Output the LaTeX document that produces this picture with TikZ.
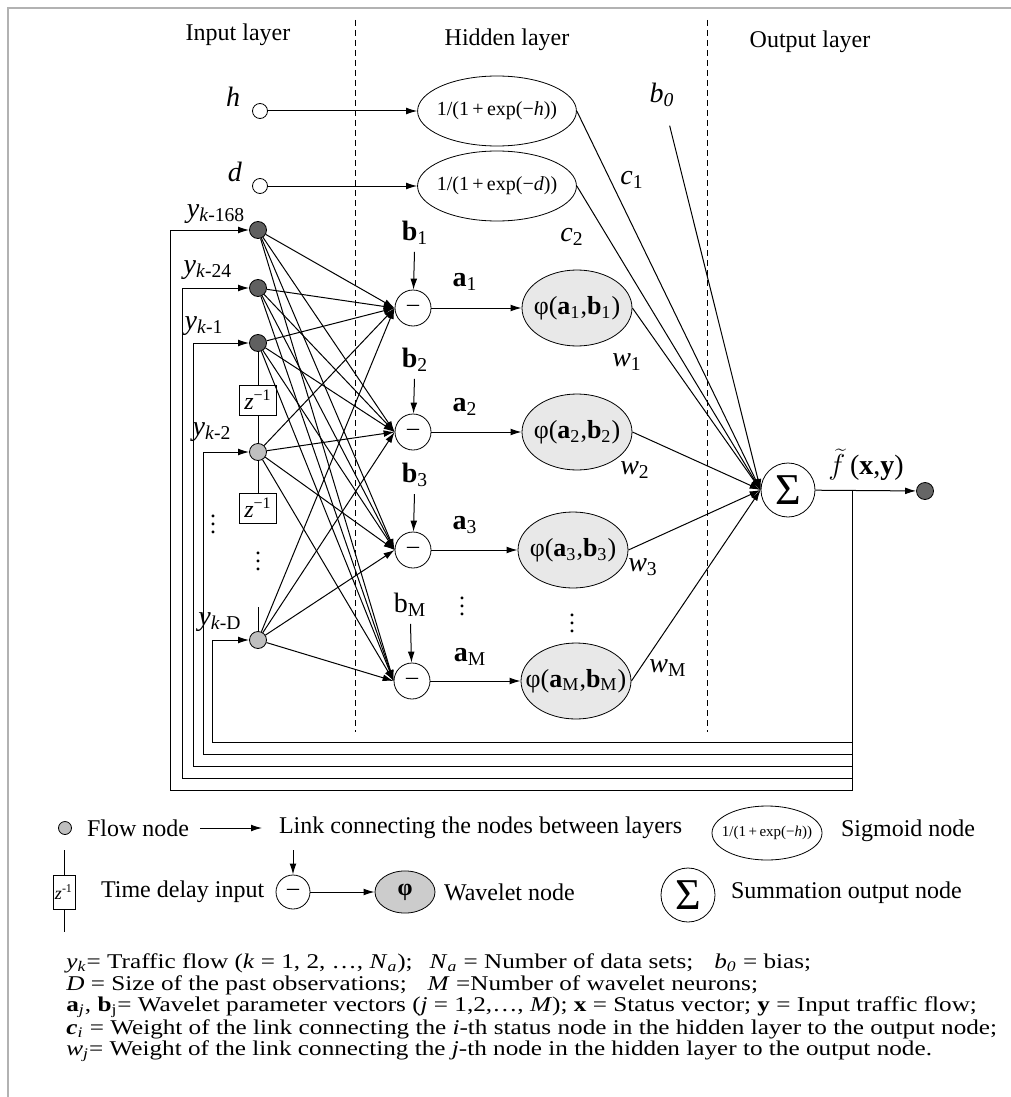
\documentclass[tikz,border=0pt]{standalone}
\usepackage{fontspec}
\setmainfont{Liberation Serif}
\newfontfamily\noteserif{Liberation Serif}[FakeStretch=1.2]
\usetikzlibrary{arrows.meta, shapes.geometric}

\tikzset{
  link/.style={-{Latex[length=5.5pt,width=3.4pt]}, line width=0.5pt},
  layerline/.style={dashed, dash pattern=on 3pt off 2pt, line width=0.5pt},
  inputnode/.style={circle, draw, fill=white, minimum size=7.5pt, inner sep=0pt},
  flownode/.style={circle, draw, line width=0.4pt, fill=#1, minimum size=8.5pt, inner sep=0pt},
  subnode/.style={circle, draw, fill=white, minimum size=18pt, inner sep=0pt},
  signode/.style={ellipse, draw, fill=white, minimum width=75pt, minimum height=35pt,
    inner xsep=-2pt, font=\fontsize{10}{12}\selectfont},
  wavnode/.style={ellipse, draw, fill=gray!18, minimum width=55pt, minimum height=38pt,
    inner xsep=-6pt, font=\fontsize{13}{15}\selectfont},
  sumnode/.style={circle, draw, fill=white, minimum size=27pt, inner sep=0pt,
    font=\fontsize{22}{24}\selectfont},
  delaybox/.style={rectangle, draw, fill=white, minimum width=18.5pt, minimum height=15pt,
    inner sep=1pt},
  varlab/.style={font=\fontsize{14}{16}\selectfont},
  vdots/.style={inner sep=0pt},
  legtext/.style={anchor=west},
  notes/.style={anchor=west, inner sep=0pt, font=\noteserif\fontsize{10.5}{12}\selectfont}
}

\begin{document}
\begin{tikzpicture}[x=0.5pt, y=-0.5pt, font=\fontsize{12}{14}\selectfont]
  \useasboundingbox (0,0) rectangle (1011,1097);
  \draw[gray!60, line width=1pt] (8,1097) -- (8,8) -- (1011,8);

  % layers
  \node (inHead) at (238,35) {Input layer};
  \node (hidHead) at (507,40) {Hidden layer};
  \node (outHead) at (810,42) {Output layer};
  \draw[layerline] (355,20) -- (355,732);
  \draw[layerline] (707,20) -- (707,732);

  % status inputs
  \node[inputnode] (hIn) at (260,111) {};
  \node[varlab] (hLab) at (233,97) {\textit{h}};
  \node[inputnode] (dIn) at (260,186) {};
  \node[varlab] (dLab) at (235,172) {\textit{d}};
  \node[signode] (sigH) at (497,111) {1/(1\,+\,exp(−\textit{h}))};
  \node[signode] (sigD) at (497,186) {1/(1\,+\,exp(−\textit{d}))};
  \draw[link] (hIn) -- (sigH);
  \draw[link] (dIn) -- (sigD);

  % flow nodes
  \node[flownode=gray!75!black] (y168) at (258,230) {};
  \node[flownode=gray!75!black] (y24) at (258,288) {};
  \node[flownode=gray!75!black] (y1) at (258,343) {};
  \node[flownode=gray!50] (y2) at (258,452) {};
  \node[flownode=gray!50] (yD) at (258,640) {};
  \node[varlab] (y168Lab) at (216,214) {\textit{y}\textsubscript{\textit{k}-168}};
  \node[varlab] (y24Lab) at (208,270) {\textit{y}\textsubscript{\textit{k}-24}};
  \node[varlab] (y1Lab) at (204,326) {\textit{y}\textsubscript{\textit{k}-1}};
  \node[varlab] (y2Lab) at (212,432) {\textit{y}\textsubscript{\textit{k}-2}};
  \node[varlab] (yDLab) at (220,622) {\textit{y}\textsubscript{\textit{k}-D}};

  % time delays
  \node[delaybox] (zA) at (258,400) {\textit{z}\textsuperscript{−1}};
  \node[delaybox] (zB) at (258,508) {\textit{z}\textsuperscript{−1}};
  \draw (y1) -- (zA) -- (y2);
  \draw (y2) -- (zB);
  \coordinate (dTop) at (258,607);
  \draw (dTop) -- (yD);
  \node[vdots] (dotsA) at (213,518) {$\vdots$};
  \node[vdots] (dotsB) at (258,555) {$\vdots$};

  % wavelet part
  \node[subnode] (sub1) at (413,308) {–};
  \node[subnode] (sub2) at (413,432) {–};
  \node[subnode] (sub3) at (413,550) {–};
  \node[subnode] (subM) at (412,681) {–};
  \node[varlab] (b1) at (415,233) {\textbf{b}\textsubscript{1}};
  \node[varlab] (b2) at (415,360) {\textbf{b}\textsubscript{2}};
  \node[varlab] (b3) at (415,475) {\textbf{b}\textsubscript{3}};
  \node[varlab] (bM) at (410,605) {b\textsubscript{M}};
  \draw[link] (b1) -- (sub1);
  \draw[link] (b2) -- (sub2);
  \draw[link] (b3) -- (sub3);
  \draw[link] (bM) -- (subM);

  \node[wavnode] (wav1) at (577,308) {φ(\textbf{a}\textsubscript{1},\textbf{b}\textsubscript{1})};
  \node[wavnode] (wav2) at (577,432) {φ(\textbf{a}\textsubscript{2},\textbf{b}\textsubscript{2})};
  \node[wavnode] (wav3) at (573,550) {φ(\textbf{a}\textsubscript{3},\textbf{b}\textsubscript{3})};
  \node[wavnode] (wavM) at (576,681) {φ(\textbf{a}\textsubscript{M},\textbf{b}\textsubscript{M})};
  \node[varlab] (a1) at (465,282) {\textbf{a}\textsubscript{1}};
  \node[varlab] (a2) at (465,407) {\textbf{a}\textsubscript{2}};
  \node[varlab] (a3) at (465,525) {\textbf{a}\textsubscript{3}};
  \node[varlab] (aM) at (470,657) {\textbf{a}\textsubscript{M}};
  \foreach \n in {1,2,3,M}
    \draw[link] (sub\n) -- (wav\n);
  \node[vdots] (dotsC) at (462,600) {$\vdots$};
  \node[vdots] (dotsD) at (572,617) {$\vdots$};

  \foreach \s in {y168,y24,y1,y2,yD}
    \foreach \t in {sub1,sub2,sub3,subM}
      \draw[link] (\s) -- (\t.west);

  % output
  \node[sumnode] (sum) at (788,490) {Σ};
  \node[flownode=gray!80!black] (out) at (925,491) {};
  \draw[link] (sum) -- (out);
  \node[varlab] (fLab) at (866,465) {$\widetilde{f}$\,(\textbf{x},\textbf{y})};
  \node[varlab] (b0) at (662,95) {\textit{b}\textsubscript{\textit{0}}};
  \node[varlab] (c1) at (632,180) {\textit{c}\textsubscript{1}};
  \node[varlab] (c2) at (572,237) {\textit{c}\textsubscript{2}};
  \node[varlab] (w1) at (627,362) {\textit{w}\textsubscript{1}};
  \node[varlab] (w2) at (635,470) {\textit{w}\textsubscript{2}};
  \node[varlab] (w3) at (643,567) {\textit{w}\textsubscript{3}};
  \node[varlab] (wM) at (668,668) {\textit{w}\textsubscript{M}};
  \foreach \n in {sigH,sigD,wav1,wav2,wav3,wavM}
    \draw[link] (\n.east) -- (sum.west);
  \draw[link, shorten <=6pt] (b0) -- (sum.west);

  % feedback of the output
  \coordinate (tap) at (852,491);
  \foreach \n/\x/\y in {y168/170/790, y24/182/778, y1/193/766, y2/203/754, yD/212/742}
    \draw[link] (tap) |- (\x,\y) |- (\n);

  % legend
  \node[flownode=gray!50, minimum size=6.5pt] (lgFlow) at (65,828) {};
  \node[legtext] (lgFlowTxt) at (80,828) {Flow node};
  \coordinate (lgLinkA) at (200,828);
  \coordinate (lgLinkB) at (262,828);
  \draw[link] (lgLinkA) -- (lgLinkB);
  \node[legtext] (lgLinkTxt) at (272,828) {Link connecting the nodes between layers};
  \node[signode, minimum width=55pt, minimum height=27pt, inner xsep=-4pt,
    font=\fontsize{7.5}{9}\selectfont] (lgSig) at (767,833) {1/(1\,+\,exp(−\textit{h}))};
  \node[legtext] (lgSigTxt) at (834,831) {Sigmoid node};
  \node[delaybox, minimum width=11pt, minimum height=17pt, inner sep=0.5pt,
    font=\fontsize{9}{10}\selectfont] (lgDelay) at (64,892) {\textit{z}\textsuperscript{-1}};
  \coordinate (lgDelayTop) at (64,850);
  \coordinate (lgDelayBot) at (64,932);
  \draw (lgDelayTop) -- (lgDelay) -- (lgDelayBot);
  \node[legtext] (lgDelayTxt) at (94,892) {Time delay input};
  \node[subnode, minimum size=17pt] (lgSub) at (293,892) {–};
  \coordinate (lgSubTop) at (293,850);
  \draw[link] (lgSubTop) -- (lgSub);
  \node[wavnode, minimum width=30pt, minimum height=20pt, fill=gray!40,
    font=\fontsize{12}{14}\selectfont] (lgWav) at (405,892) {\textbf{φ}};
  \draw[link] (lgSub) -- (lgWav);
  \node[legtext] (lgWavTxt) at (437,892) {Wavelet node};
  \node[sumnode] (lgSum) at (688,895) {Σ};
  \node[legtext] (lgSumTxt) at (724,893) {Summation output node};

  % notation
  \node[notes] (note1) at (66,963) {\textit{y}\textsubscript{\textit{k}}= Traffic flow (\textit{k} = 1, 2, …, \textit{N}\textsubscript{\textit{a}});\hspace{0.8em}\textit{N}\textsubscript{\textit{a}} = Number of data sets;\hspace{1em}\textit{b}\textsubscript{\textit{0}} = bias;};
  \node[notes] (note2) at (66,985) {\textit{D} = Size of the past observations;\hspace{1em}\textit{M} =Number of wavelet neurons;};
  \node[notes] (note3) at (66,1007) {\textbf{a}\textsubscript{\textit{j}}, \textbf{b}\textsubscript{j}= Wavelet parameter vectors (\textit{j} = 1,2,…, \textit{M}); \textbf{x} = Status vector; \textbf{y} = Input traffic flow;};
  \node[notes] (note4) at (66,1029) {\textbf{\textit{c}}\textsubscript{\textit{i}} = Weight of the link connecting the \textit{i}-th status node in the hidden layer to the output node;};
  \node[notes] (note5) at (66,1051) {\textit{w}\textsubscript{\textit{j}}= Weight of the link connecting the \textit{j}-th node in the hidden layer to the output node.};
\end{tikzpicture}
\end{document}
